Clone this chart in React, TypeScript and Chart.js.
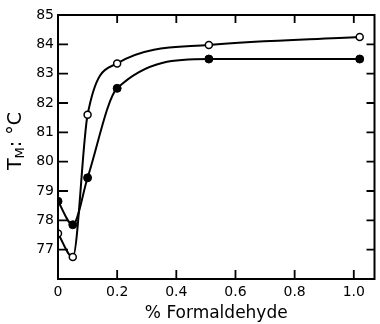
import React, { useEffect, useRef } from "react";
import { Chart, registerables } from "chart.js";

Chart.register(...registerables);

const formaldehyde = [0, 0.05, 0.1, 0.2, 0.51, 1.02];
const openSeries = [77.55, 76.75, 81.6, 83.35, 83.98, 84.25];
const filledSeries = [78.65, 77.85, 79.45, 82.5, 83.5, 83.5];
const xTickValues = [0, 0.2, 0.4, 0.6, 0.8, 1.0];
const xTickLabels = ["0", "0.2", "0.4", "0.6", "0.8", "1.0"];
const yTickValues = [76, 77, 78, 79, 80, 81, 82, 83, 84, 85];
const yTickLabels = ["", "77", "78", "79", "80", "81", "82", "83", "84", "85"];
const xTitle = "% Formaldehyde";
const yTitleMain = "T";
const yTitleSub = "M";
const yTitleRest = ": °C";

const FONT = "'DejaVu Sans', sans-serif";

const framePlugin = {
  id: "frame",
  afterDraw(chart: any) {
    const { ctx, chartArea } = chart;
    const { left, right, top, bottom } = chartArea;
    const xs = chart.scales.x;
    const ys = chart.scales.y;
    ctx.save();
    ctx.strokeStyle = "#000";
    ctx.lineWidth = 2;
    ctx.beginPath();
    ctx.rect(left, top, right - left, bottom - top);
    ctx.stroke();
    ctx.lineWidth = 1.8;
    ctx.beginPath();
    xTickValues.forEach((v) => {
      if (v === 0) return;
      const px = xs.getPixelForValue(v);
      ctx.moveTo(px, bottom);
      ctx.lineTo(px, bottom - 9);
      ctx.moveTo(px, top);
      ctx.lineTo(px, top + 8);
    });
    yTickValues.forEach((v) => {
      if (v === 76 || v === 85) return;
      const py = ys.getPixelForValue(v);
      ctx.moveTo(left, py);
      ctx.lineTo(left + 10, py);
      ctx.moveTo(right, py);
      ctx.lineTo(right - 8, py);
    });
    ctx.stroke();

    // y axis title with subscript
    ctx.translate(16, (top + bottom) / 2 - 6);
    ctx.rotate(-Math.PI / 2);
    ctx.fillStyle = "#000";
    ctx.textBaseline = "middle";
    const big = `19px ${FONT}`;
    const small = `13px ${FONT}`;
    ctx.font = big;
    const w1 = ctx.measureText(yTitleMain).width;
    ctx.font = small;
    const w2 = ctx.measureText(yTitleSub).width;
    ctx.font = big;
    const w3 = ctx.measureText(yTitleRest).width;
    const total = w1 + w2 + w3;
    let x = -total / 2;
    ctx.font = big;
    ctx.fillText(yTitleMain, x, 0);
    x += w1;
    ctx.font = small;
    ctx.fillText(yTitleSub, x, 5);
    x += w2;
    ctx.font = big;
    ctx.fillText(yTitleRest, x, 0);
    ctx.restore();
  },
};

export default function App() {
  const ref = useRef<HTMLCanvasElement | null>(null);
  useEffect(() => {
    if (!ref.current) return;
    const chart = new Chart(ref.current, {
      type: "line",
      data: {
        datasets: [
          {
            data: formaldehyde.map((x, i) => ({ x, y: openSeries[i] })),
            borderColor: "#000",
            borderWidth: 2,
            backgroundColor: "#fff",
            pointBackgroundColor: "#fff",
            pointBorderColor: "#000",
            pointBorderWidth: 1.5,
            pointRadius: 3.5,
            cubicInterpolationMode: "monotone",
          },
          {
            data: formaldehyde.map((x, i) => ({ x, y: filledSeries[i] })),
            borderColor: "#000",
            borderWidth: 2,
            backgroundColor: "#000",
            pointBackgroundColor: "#000",
            pointBorderColor: "#000",
            pointBorderWidth: 1,
            pointRadius: 4,
            cubicInterpolationMode: "monotone",
          },
        ],
      },
      options: {
        animation: false,
        responsive: true,
        maintainAspectRatio: false,
        layout: { padding: { top: 15, right: 3, left: 0, bottom: 0 } },
        plugins: {
          legend: { display: false },
          tooltip: { enabled: false },
        },
        scales: {
          x: {
            type: "linear",
            min: 0,
            max: 1.07,
            afterBuildTicks: (s: any) => {
              s.ticks = xTickValues.map((v) => ({ value: v }));
            },
            afterFit: (s: any) => {
              s.height = 45;
            },
            grid: { display: false, drawTicks: false },
            border: { display: false },
            ticks: {
              padding: 5,
              color: "#000",
              font: { family: FONT, size: 14 },
              maxRotation: 0,
              autoSkip: false,
              callback: (_v: any, i: number) => xTickLabels[i],
            },
            title: {
              display: true,
              text: xTitle,
              color: "#000",
              font: { family: FONT, size: 17 },
              padding: { top: 2, bottom: 0 },
            },
          },
          y: {
            type: "linear",
            min: 76,
            max: 85,
            afterBuildTicks: (s: any) => {
              s.ticks = yTickValues.map((v) => ({ value: v }));
            },
            afterFit: (s: any) => {
              s.width = 58;
            },
            grid: { display: false, drawTicks: false },
            border: { display: false },
            ticks: {
              padding: 4,
              color: "#000",
              font: { family: FONT, size: 14 },
              autoSkip: false,
              callback: (_v: any, i: number) => yTickLabels[i],
            },
          },
        },
      },
      plugins: [framePlugin],
    });
    return () => chart.destroy();
  }, []);
  return (
    <div style={{ position: "fixed", left: 0, top: 0, width: 380, height: 324, background: "#fff" }}>
      <canvas ref={ref} />
    </div>
  );
}
